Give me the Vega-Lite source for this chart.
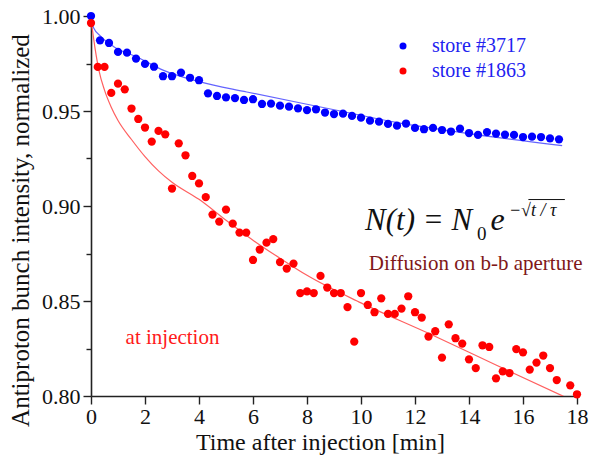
{
  "$schema": "https://vega.github.io/schema/vega-lite/v6.json",
  "autosize": "none",
  "width": 486,
  "height": 380,
  "padding": {"left": 91, "top": 16, "right": 13, "bottom": 59},
  "background": "white",
  "config": {
    "view": {"stroke": null},
    "font": "Liberation Serif, Times New Roman, serif",
    "axis": {
      "domainColor": "#222222", "domainWidth": 1.6,
      "tickColor": "#222222", "tickWidth": 1.4,
      "labelFont": "Liberation Serif, Times New Roman, serif", "labelFontSize": 22, "labelColor": "#111111",
      "titleFont": "Liberation Serif, Times New Roman, serif", "titleFontSize": 25, "titleFontWeight": "normal", "titleColor": "#111111",
      "grid": false
    },
    "legend": {
      "orient": "none", "legendX": 302, "legendY": 20, "padding": 0,
      "labelFont": "Liberation Serif, Times New Roman, serif", "labelFontSize": 20, "labelColor": "#2222f0",
      "symbolSize": 49, "symbolType": "circle", "symbolStrokeWidth": 0,
      "rowPadding": 5, "labelOffset": 19
    }
  },
  "datasets": {
    "pts": [
      {"series": "store #3717", "t": 0, "v": 1.0},
      {"series": "store #3717", "t": 0.333, "v": 0.9872},
      {"series": "store #3717", "t": 0.667, "v": 0.9858},
      {"series": "store #3717", "t": 1.0, "v": 0.9811},
      {"series": "store #3717", "t": 1.333, "v": 0.9807},
      {"series": "store #3717", "t": 1.667, "v": 0.9776},
      {"series": "store #3717", "t": 2.0, "v": 0.9748},
      {"series": "store #3717", "t": 2.333, "v": 0.9733},
      {"series": "store #3717", "t": 2.667, "v": 0.9683},
      {"series": "store #3717", "t": 3.0, "v": 0.9683},
      {"series": "store #3717", "t": 3.333, "v": 0.9702},
      {"series": "store #3717", "t": 3.667, "v": 0.9675},
      {"series": "store #3717", "t": 4.0, "v": 0.9662},
      {"series": "store #3717", "t": 4.333, "v": 0.9593},
      {"series": "store #3717", "t": 4.667, "v": 0.9579},
      {"series": "store #3717", "t": 5.0, "v": 0.9572},
      {"series": "store #3717", "t": 5.333, "v": 0.9568},
      {"series": "store #3717", "t": 5.667, "v": 0.9558},
      {"series": "store #3717", "t": 6.0, "v": 0.9562},
      {"series": "store #3717", "t": 6.333, "v": 0.9537},
      {"series": "store #3717", "t": 6.667, "v": 0.9539},
      {"series": "store #3717", "t": 7.0, "v": 0.9528},
      {"series": "store #3717", "t": 7.333, "v": 0.9523},
      {"series": "store #3717", "t": 7.667, "v": 0.9514},
      {"series": "store #3717", "t": 8.0, "v": 0.9505},
      {"series": "store #3717", "t": 8.333, "v": 0.9509},
      {"series": "store #3717", "t": 8.667, "v": 0.9492},
      {"series": "store #3717", "t": 9.0, "v": 0.9484},
      {"series": "store #3717", "t": 9.333, "v": 0.9486},
      {"series": "store #3717", "t": 9.667, "v": 0.9474},
      {"series": "store #3717", "t": 10.0, "v": 0.9465},
      {"series": "store #3717", "t": 10.333, "v": 0.9449},
      {"series": "store #3717", "t": 10.667, "v": 0.9444},
      {"series": "store #3717", "t": 11.0, "v": 0.9432},
      {"series": "store #3717", "t": 11.333, "v": 0.9423},
      {"series": "store #3717", "t": 11.667, "v": 0.9434},
      {"series": "store #3717", "t": 12.0, "v": 0.9411},
      {"series": "store #3717", "t": 12.333, "v": 0.9404},
      {"series": "store #3717", "t": 12.667, "v": 0.9411},
      {"series": "store #3717", "t": 13.0, "v": 0.9400},
      {"series": "store #3717", "t": 13.333, "v": 0.9392},
      {"series": "store #3717", "t": 13.667, "v": 0.9407},
      {"series": "store #3717", "t": 14.0, "v": 0.9384},
      {"series": "store #3717", "t": 14.333, "v": 0.9374},
      {"series": "store #3717", "t": 14.667, "v": 0.9389},
      {"series": "store #3717", "t": 15.0, "v": 0.9381},
      {"series": "store #3717", "t": 15.333, "v": 0.9376},
      {"series": "store #3717", "t": 15.667, "v": 0.9374},
      {"series": "store #3717", "t": 16.0, "v": 0.9363},
      {"series": "store #3717", "t": 16.333, "v": 0.9365},
      {"series": "store #3717", "t": 16.667, "v": 0.9363},
      {"series": "store #3717", "t": 17.0, "v": 0.9356},
      {"series": "store #3717", "t": 17.333, "v": 0.9351},
      {"series": "store #1863", "t": 0, "v": 0.9963},
      {"series": "store #1863", "t": 0.25, "v": 0.9732},
      {"series": "store #1863", "t": 0.5, "v": 0.9732},
      {"series": "store #1863", "t": 0.75, "v": 0.9595},
      {"series": "store #1863", "t": 1.0, "v": 0.9644},
      {"series": "store #1863", "t": 1.25, "v": 0.9614},
      {"series": "store #1863", "t": 1.5, "v": 0.9513},
      {"series": "store #1863", "t": 1.75, "v": 0.9458},
      {"series": "store #1863", "t": 2.0, "v": 0.9413},
      {"series": "store #1863", "t": 2.25, "v": 0.9339},
      {"series": "store #1863", "t": 2.5, "v": 0.9395},
      {"series": "store #1863", "t": 2.75, "v": 0.9377},
      {"series": "store #1863", "t": 3.0, "v": 0.9092},
      {"series": "store #1863", "t": 3.25, "v": 0.9330},
      {"series": "store #1863", "t": 3.5, "v": 0.9267},
      {"series": "store #1863", "t": 3.75, "v": 0.9158},
      {"series": "store #1863", "t": 4.0, "v": 0.9119},
      {"series": "store #1863", "t": 4.25, "v": 0.9047},
      {"series": "store #1863", "t": 4.5, "v": 0.8955},
      {"series": "store #1863", "t": 4.75, "v": 0.8918},
      {"series": "store #1863", "t": 5.0, "v": 0.8981},
      {"series": "store #1863", "t": 5.25, "v": 0.8907},
      {"series": "store #1863", "t": 5.5, "v": 0.8860},
      {"series": "store #1863", "t": 5.75, "v": 0.8860},
      {"series": "store #1863", "t": 6.0, "v": 0.8716},
      {"series": "store #1863", "t": 6.25, "v": 0.8771},
      {"series": "store #1863", "t": 6.5, "v": 0.8807},
      {"series": "store #1863", "t": 6.75, "v": 0.8826},
      {"series": "store #1863", "t": 7.0, "v": 0.8705},
      {"series": "store #1863", "t": 7.25, "v": 0.8671},
      {"series": "store #1863", "t": 7.5, "v": 0.8697},
      {"series": "store #1863", "t": 7.75, "v": 0.8542},
      {"series": "store #1863", "t": 8.0, "v": 0.8551},
      {"series": "store #1863", "t": 8.25, "v": 0.8542},
      {"series": "store #1863", "t": 8.5, "v": 0.8632},
      {"series": "store #1863", "t": 8.75, "v": 0.8571},
      {"series": "store #1863", "t": 9.0, "v": 0.8542},
      {"series": "store #1863", "t": 9.25, "v": 0.8542},
      {"series": "store #1863", "t": 9.5, "v": 0.8468},
      {"series": "store #1863", "t": 9.75, "v": 0.8286},
      {"series": "store #1863", "t": 10.0, "v": 0.8542},
      {"series": "store #1863", "t": 10.25, "v": 0.8479},
      {"series": "store #1863", "t": 10.5, "v": 0.8441},
      {"series": "store #1863", "t": 10.75, "v": 0.8514},
      {"series": "store #1863", "t": 11.0, "v": 0.8432},
      {"series": "store #1863", "t": 11.25, "v": 0.8432},
      {"series": "store #1863", "t": 11.5, "v": 0.8460},
      {"series": "store #1863", "t": 11.75, "v": 0.8525},
      {"series": "store #1863", "t": 12.0, "v": 0.8441},
      {"series": "store #1863", "t": 12.25, "v": 0.8413},
      {"series": "store #1863", "t": 12.5, "v": 0.8313},
      {"series": "store #1863", "t": 12.75, "v": 0.8341},
      {"series": "store #1863", "t": 13.0, "v": 0.8202},
      {"series": "store #1863", "t": 13.25, "v": 0.8377},
      {"series": "store #1863", "t": 13.5, "v": 0.8304},
      {"series": "store #1863", "t": 13.75, "v": 0.8276},
      {"series": "store #1863", "t": 14.0, "v": 0.8193},
      {"series": "store #1863", "t": 14.25, "v": 0.8147},
      {"series": "store #1863", "t": 14.5, "v": 0.8267},
      {"series": "store #1863", "t": 14.75, "v": 0.8258},
      {"series": "store #1863", "t": 15.0, "v": 0.8093},
      {"series": "store #1863", "t": 15.25, "v": 0.8130},
      {"series": "store #1863", "t": 15.5, "v": 0.8121},
      {"series": "store #1863", "t": 15.75, "v": 0.8247},
      {"series": "store #1863", "t": 16.0, "v": 0.8230},
      {"series": "store #1863", "t": 16.25, "v": 0.8139},
      {"series": "store #1863", "t": 16.5, "v": 0.8176},
      {"series": "store #1863", "t": 16.75, "v": 0.8213},
      {"series": "store #1863", "t": 17.0, "v": 0.8147},
      {"series": "store #1863", "t": 17.25, "v": 0.8084},
      {"series": "store #1863", "t": 17.75, "v": 0.8056},
      {"series": "store #1863", "t": 18.0, "v": 0.8009}
    ],
    "fitblue": [
      {"t": 0, "v": 0.9975},
      {"t": 0.1, "v": 0.9937},
      {"t": 0.36, "v": 0.9893},
      {"t": 0.83, "v": 0.9840},
      {"t": 1.7, "v": 0.9784},
      {"t": 2.69, "v": 0.9714},
      {"t": 4.04, "v": 0.9653},
      {"t": 5.77, "v": 0.9600},
      {"t": 9.1, "v": 0.9504},
      {"t": 11.3, "v": 0.9440},
      {"t": 13.8, "v": 0.9385},
      {"t": 17.45, "v": 0.9318}
    ],
    "fitred": [
      {"t": 0, "v": 0.998},
      {"t": 0.05, "v": 0.993},
      {"t": 0.15, "v": 0.983},
      {"t": 0.3, "v": 0.971},
      {"t": 0.5, "v": 0.961},
      {"t": 0.75, "v": 0.952},
      {"t": 1.0, "v": 0.945},
      {"t": 1.5, "v": 0.935},
      {"t": 2.0, "v": 0.926},
      {"t": 2.5, "v": 0.9185},
      {"t": 3.0, "v": 0.9125},
      {"t": 4.0, "v": 0.9035},
      {"t": 5.0, "v": 0.8925},
      {"t": 6.0, "v": 0.882},
      {"t": 7.0, "v": 0.8725},
      {"t": 8.0, "v": 0.8635},
      {"t": 10.0, "v": 0.849},
      {"t": 12.5, "v": 0.833},
      {"t": 15.0, "v": 0.8163},
      {"t": 17.5, "v": 0.7998}
    ]
  },
  "layer": [
    {
      "data": {"name": "fitblue"},
      "mark": {"type": "line", "interpolate": "monotone", "strokeWidth": 1.2, "color": "#6464ff", "clip": true},
      "encoding": {
        "x": {"field": "t", "type": "quantitative", "scale": {"domain": [0, 18], "nice": false},
          "axis": {
            "title": "Time after injection [min]",
            "values": [0,1,2,3,4,5,6,7,8,9,10,11,12,13,14,15,16,17,18],
            "labelExpr": "datum.value % 2 === 0 ? datum.label : ''",
            "tickSize": {"condition": {"test": "datum.value % 2 === 0", "value": 8}, "value": 4},
            "labelPadding": 2,
            "labelFlush": false,
            "titleFontSize": 24,
            "titleX": 229, "titleY": 53, "titleBaseline": "alphabetic", "titleAnchor": null
          }},
        "y": {"field": "v", "type": "quantitative", "scale": {"domain": [0.8, 1.0], "nice": false, "zero": false},
          "axis": {
            "title": "Antiproton bunch intensity, normalized",
            "values": [0.8,0.825,0.85,0.875,0.9,0.925,0.95,0.975,1.0],
            "labelExpr": "round(datum.value*40) % 2 === 0 ? format(datum.value, '.2f') : ''",
            "tickSize": {"condition": {"test": "round(datum.value*40) % 2 === 0", "value": 8}, "value": 5},
            "labelPadding": 3,
            "labelFlush": false,
            "titleX": -71, "titleY": 214, "titleAngle": 270, "titleAlign": "center", "titleBaseline": "middle"
          }}
      }
    },
    {
      "data": {"name": "fitred"},
      "mark": {"type": "line", "interpolate": "monotone", "strokeWidth": 1.2, "color": "#ff6060", "clip": true},
      "encoding": {
        "x": {"field": "t", "type": "quantitative"},
        "y": {"field": "v", "type": "quantitative"}
      }
    },
    {
      "data": {"name": "pts"},
      "mark": {"type": "circle", "size": 68, "opacity": 1},
      "encoding": {
        "x": {"field": "t", "type": "quantitative"},
        "y": {"field": "v", "type": "quantitative"},
        "color": {"field": "series", "type": "nominal", "title": null,
          "scale": {"domain": ["store #3717", "store #1863"], "range": ["#0000ff", "#ff0000"]}}
      }
    },
    {
      "data": {"values": [{"t": 10.15, "v": 0.8876, "label": "N(t) = N"}]},
      "mark": {"type": "text", "font": "Liberation Serif, Times New Roman, serif", "fontStyle": "italic", "fontSize": 31, "align": "left", "baseline": "alphabetic", "color": "#111111"},
      "encoding": {"x": {"field": "t", "type": "quantitative"}, "y": {"field": "v", "type": "quantitative"}, "text": {"field": "label"}}
    },
    {
      "data": {"values": [{"t": 14.3, "v": 0.8821, "label": "0"}]},
      "mark": {"type": "text", "font": "Liberation Serif, Times New Roman, serif", "fontSize": 19, "align": "left", "baseline": "alphabetic", "color": "#111111"},
      "encoding": {"x": {"field": "t", "type": "quantitative"}, "y": {"field": "v", "type": "quantitative"}, "text": {"field": "label"}}
    },
    {
      "data": {"values": [{"t": 14.8, "v": 0.8876, "label": "e"}]},
      "mark": {"type": "text", "font": "Liberation Serif, Times New Roman, serif", "fontStyle": "italic", "fontSize": 32, "align": "left", "baseline": "alphabetic", "color": "#111111"},
      "encoding": {"x": {"field": "t", "type": "quantitative"}, "y": {"field": "v", "type": "quantitative"}, "text": {"field": "label"}}
    },
    {
      "data": {"values": [{"t": 15.48, "v": 0.8946, "label": "−√t / τ"}]},
      "mark": {"type": "text", "font": "Liberation Serif, Times New Roman, serif", "fontStyle": "italic", "fontSize": 18, "align": "left", "baseline": "alphabetic", "color": "#111111"},
      "encoding": {"x": {"field": "t", "type": "quantitative"}, "y": {"field": "v", "type": "quantitative"}, "text": {"field": "label"}}
    },
    {
      "data": {"values": [{"t": 16.2, "t2": 17.55, "v": 0.9034}]},
      "mark": {"type": "rule", "color": "#111111", "strokeWidth": 1},
      "encoding": {"x": {"field": "t", "type": "quantitative"}, "x2": {"field": "t2"}, "y": {"field": "v", "type": "quantitative"}}
    },
    {
      "data": {"values": [{"t": 10.29, "v": 0.8662, "label": "Diffusion on b-b aperture"}]},
      "mark": {"type": "text", "font": "Liberation Serif, Times New Roman, serif", "fontSize": 21, "align": "left", "baseline": "alphabetic", "color": "#801818"},
      "encoding": {"x": {"field": "t", "type": "quantitative"}, "y": {"field": "v", "type": "quantitative"}, "text": {"field": "label"}}
    },
    {
      "data": {"values": [{"t": 1.28, "v": 0.8272, "label": "at injection"}]},
      "mark": {"type": "text", "font": "Liberation Serif, Times New Roman, serif", "fontSize": 21, "align": "left", "baseline": "alphabetic", "color": "#ff1a1a"},
      "encoding": {"x": {"field": "t", "type": "quantitative"}, "y": {"field": "v", "type": "quantitative"}, "text": {"field": "label"}}
    }
  ]
}
